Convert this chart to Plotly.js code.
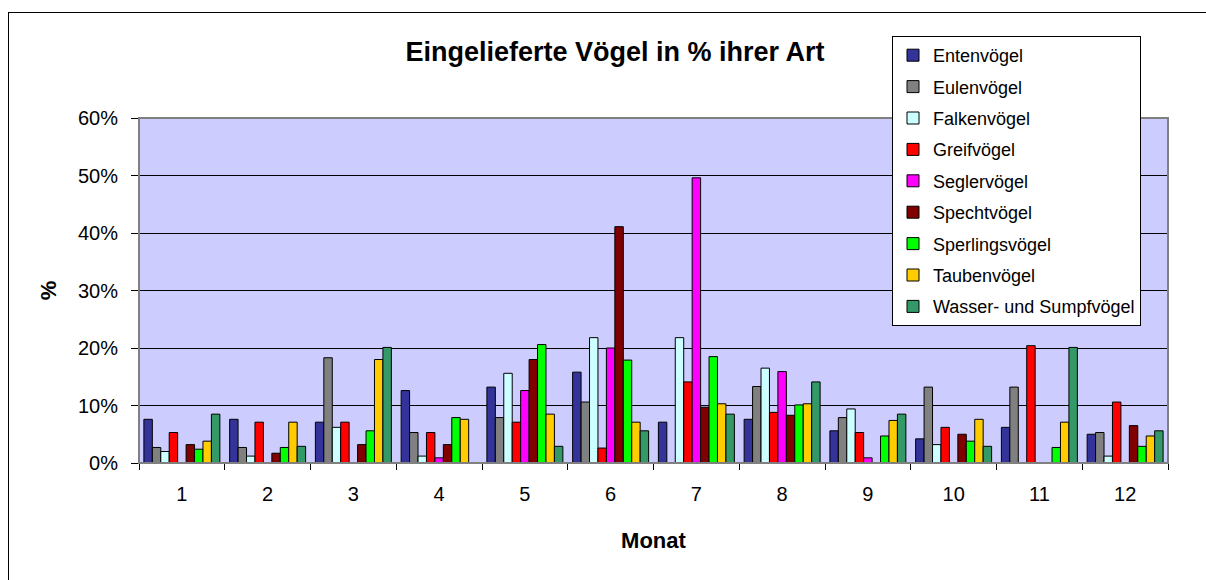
<!DOCTYPE html>
<html>
<head>
<meta charset="utf-8">
<script src="https://cdn.plot.ly/plotly-3.0.1.min.js"></script>
<style>
html,body{margin:0;padding:0;background:#fff;overflow:hidden;}
#wrap{position:relative;width:1206px;height:580px;overflow:hidden;}
#chart{width:1206px;height:580px;}
#frame{position:absolute;left:8px;top:12px;width:1300px;height:700px;border-left:1px solid #000;border-top:1px solid #000;pointer-events:none;}
</style>
</head>
<body>
<div id="wrap"><div id="chart"></div><div id="frame"></div></div>
<script>
const months = ['1','2','3','4','5','6','7','8','9','10','11','12'];
const seriesNames = ['Entenvögel','Eulenvögel','Falkenvögel','Greifvögel','Seglervögel','Spechtvögel','Sperlingsvögel','Taubenvögel','Wasser- und Sumpfvögel'];
const entenvoegel   = [7.6, 7.6, 7.1, 12.6, 13.2, 15.8, 7.1, 7.6, 5.6, 4.2, 6.2, 5.0];
const eulenvoegel   = [2.7, 2.7, 18.3, 5.3, 7.9, 10.6, 0, 13.3, 7.9, 13.2, 13.2, 5.3];
const falkenvoegel  = [2.0, 1.2, 6.2, 1.2, 15.6, 21.8, 21.8, 16.5, 9.4, 3.2, 0, 1.2];
const greifvoegel   = [5.3, 7.1, 7.1, 5.3, 7.1, 2.6, 14.1, 8.8, 5.3, 6.2, 20.4, 10.6];
const seglervoegel  = [0, 0, 0, 0.9, 12.6, 20.0, 49.6, 15.9, 0.9, 0, 0, 0];
const spechtvoegel  = [3.2, 1.7, 3.2, 3.2, 18.0, 41.1, 9.7, 8.3, 0, 5.0, 0, 6.5];
const sperlingsvoegel = [2.4, 2.7, 5.6, 7.9, 20.6, 17.9, 18.5, 10.1, 4.7, 3.8, 2.7, 2.9];
const taubenvoegel  = [3.8, 7.1, 18.0, 7.6, 8.5, 7.1, 10.3, 10.3, 7.4, 7.6, 7.1, 4.7];
const wasservoegel  = [8.5, 2.9, 20.1, 0, 2.9, 5.6, 8.5, 14.1, 8.5, 2.9, 20.1, 5.6];
const yTicks = [0, 10, 20, 30, 40, 50, 60];

const allValues = [entenvoegel, eulenvoegel, falkenvoegel, greifvoegel, seglervoegel, spechtvoegel, sperlingsvoegel, taubenvoegel, wasservoegel];
const colors = ['#333399','#808080','#CCFFFF','#FF0000','#FF00FF','#800000','#00FF00','#FFCC00','#339966'];

const FONT = '"Liberation Sans", Arial, sans-serif';

const traces = seriesNames.map((name, i) => ({
  type: 'bar',
  name: name,
  x: months,
  y: allValues[i],
  legendgroup: 'g' + i,
  marker: {color: colors[i], line: {color: '#000000', width: 1}},
  hoverinfo: 'skip'
}));

const layout = {
  width: 1206,
  height: 580,
  margin: {l: 139, r: 38, t: 118, b: 117},
  paper_bgcolor: '#ffffff',
  plot_bgcolor: '#CCCCFF',
  font: {family: FONT, color: '#000000', size: 20},
  barmode: 'group',
  bargap: 0.114,
  bargroupgap: 0,
  title: {
    text: 'Eingelieferte Vögel in % ihrer Art',
    font: {family: FONT, size: 27, weight: 'bold', color: '#000000'},
    x: 0.51, xanchor: 'center', xref: 'container',
    y: 1 - 52/580, yanchor: 'middle', yref: 'container'
  },
  xaxis: {
    type: 'category',
    tickson: 'boundaries',
    ticks: 'outside', ticklen: 6, tickcolor: '#000000', tickwidth: 1,
    showline: true, linecolor: '#000000', linewidth: 1,
    showgrid: false,
    tickfont: {family: FONT, size: 20},
    ticklabelstandoff: 13,
    title: {text: 'Monat', font: {family: FONT, size: 22, weight: 'bold'}, standoff: 28}
  },
  yaxis: {
    range: [0, 60],
    tickvals: yTicks,
    ticktext: yTicks.map(v => v + '%'),
    ticks: 'outside', ticklen: 7, tickcolor: '#000000', tickwidth: 1,
    showline: true, linecolor: '#808080', linewidth: 1,
    showgrid: true, gridcolor: '#000000', gridwidth: 1,
    zeroline: false,
    tickfont: {family: FONT, size: 20},
    ticklabelstandoff: 9,
    title: {text: '%', font: {family: FONT, size: 22, weight: 'bold'}, standoff: 15}
  },
  showlegend: true,
  legend: {
    x: (892 - 139) / 1029, xanchor: 'left',
    y: (463 - 36) / 345, yanchor: 'top',
    bgcolor: '#ffffff',
    bordercolor: '#000000', borderwidth: 1,
    font: {family: FONT, size: 18, color: '#000000'},
    traceorder: 'grouped',
    tracegroupgap: 5
  },
  shapes: [
    {type: 'rect', xref: 'paper', yref: 'paper', x0: 0, x1: 1, y0: 0, y1: 1,
     line: {color: '#808080', width: 2}, fillcolor: 'rgba(0,0,0,0)', layer: 'above'}
  ]
};

Plotly.newPlot('chart', traces, layout, {displayModeBar: false, staticPlot: true});
</script>
</body>
</html>
